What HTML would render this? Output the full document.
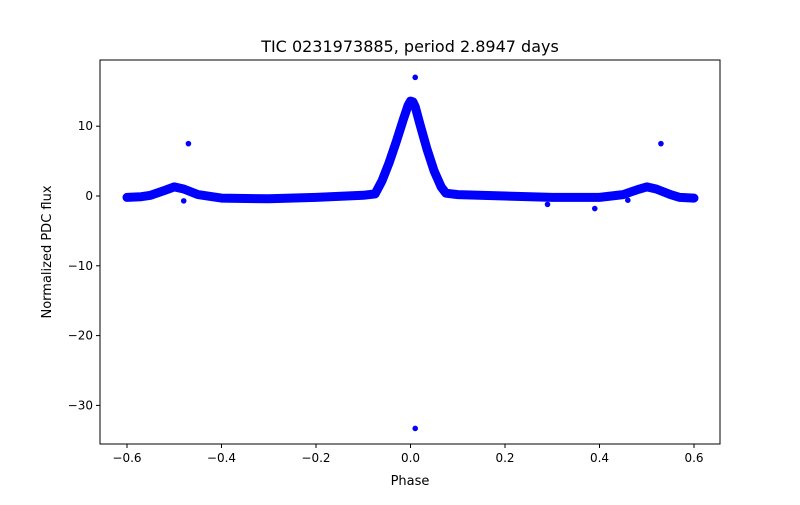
<!DOCTYPE html>
<html><head><meta charset="utf-8"><style>
body{margin:0;background:#fff;font-family:"Liberation Sans","DejaVu Sans",sans-serif;}
svg text{font-family:"DejaVu Sans","Liberation Sans",sans-serif;}
</style></head><body>
<svg id="c" width="800" height="500" xmlns="http://www.w3.org/2000/svg">
<rect width="800" height="500" fill="#fff"/>
<text x="410" y="52" text-anchor="middle" font-size="16">TIC 0231973885, period 2.8947 days</text>
<text x="410" y="485" text-anchor="middle" font-size="13">Phase</text>
<text transform="translate(51,252) rotate(-90)" text-anchor="middle" font-size="13">Normalized PDC flux</text>
<g id="marks"></g>
<g id="axes"></g>
</svg>
<script>
const phases=[-0.6,-0.57,-0.55,-0.52,-0.5,-0.48,-0.45,-0.42,-0.4,-0.3,-0.2,-0.1,-0.075,-0.06,-0.045,-0.03,-0.015,-0.005,0.0,0.005,0.01,0.02,0.035,0.05,0.065,0.075,0.1,0.2,0.3,0.4,0.45,0.48,0.5,0.52,0.55,0.57,0.6];
const flux=[-0.2,-0.1,0.1,0.8,1.3,1.0,0.2,-0.1,-0.3,-0.4,-0.2,0.1,0.3,2.2,4.8,7.8,11.0,13.0,13.6,13.5,12.8,10.3,6.7,3.6,1.3,0.4,0.2,0.0,-0.2,-0.2,0.2,0.9,1.3,1.0,0.2,-0.2,-0.3];
const outX=[-0.47,0.53,0.01,0.01,0.39,0.29,-0.48,0.46];
const outY=[7.5,7.5,17.0,-33.3,-1.8,-1.2,-0.7,-0.6];
const xTicks=[-0.6,-0.4,-0.2,0.0,0.2,0.4,0.6];
const yTicks=[10,0,-10,-20,-30];
const xTickLabels=["\u22120.6","\u22120.4","\u22120.2","0.0","0.2","0.4","0.6"];
const yTickLabels=["10","0","\u221210","\u221220","\u221230"];
const L=100,R=720,T=60,B=444;
const sx=v=>410.5+v*472.5;
const sy=v=>196-v*6.98;
const NS="http://www.w3.org/2000/svg";
const marks=document.getElementById('marks'),axes=document.getElementById('axes');
function mk(t,a,p){const e=document.createElementNS(NS,t);for(const k in a)e.setAttribute(k,a[k]);p.appendChild(e);return e;}
let d=phases.map((p,i)=>(i?'L':'M')+sx(p).toFixed(1)+','+sy(flux[i]).toFixed(1)).join(' ');
const band=mk('path',{d:d,fill:'none',stroke:'#0000ff','stroke-width':9,'stroke-linejoin':'round','stroke-linecap':'round'},marks);


outX.forEach((x,i)=>{const c=mk('circle',{cx:sx(x),cy:sy(outY[i]),r:2.8,fill:'#0000ff'},marks);

});
const fr=mk('rect',{x:L,y:T,width:R-L,height:B-T,fill:'none',stroke:'#000','stroke-width':1},axes);


xTicks.forEach((v,i)=>{const x=sx(v);mk('line',{x1:x,x2:x,y1:B,y2:B+4,stroke:'#000'},axes);
const t=mk('text',{x:x,y:B+18,'text-anchor':'middle','font-size':12},axes);t.textContent=xTickLabels[i];

});
yTicks.forEach((v,i)=>{const y=sy(v);mk('line',{x1:L-4,x2:L,y1:y,y2:y,stroke:'#000'},axes);
const t=mk('text',{x:L-7,y:y+4,'text-anchor':'end','font-size':12},axes);t.textContent=yTickLabels[i];

});
</script>
</body></html>
